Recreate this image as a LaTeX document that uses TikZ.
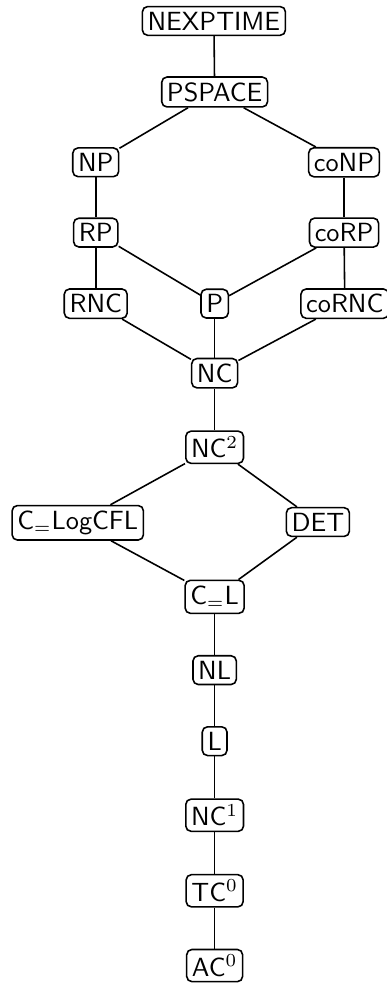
\documentclass[tikz,border=0pt]{standalone}
\usetikzlibrary{positioning}

\begin{document}
\begin{tikzpicture}[
    semithick,
    cls/.style={draw, rounded corners=2pt, inner sep=2pt, font=\sffamily},
    edge/.style={draw},
]
\useasboundingbox (0,0) rectangle (5.17,-13.17);

% upper part
\node[cls] (nexptime) at (2.86, -0.28) {NEXPTIME};
\node[cls] (pspace) at (2.87, -1.23) {PSPACE};
\node[cls] (np) at (1.28, -2.17) {NP};
\node[cls] (conp) at (4.60, -2.17) {coNP};
\node[cls] (rp) at (1.28, -3.11) {RP};
\node[cls] (corp) at (4.60, -3.11) {coRP};
\node[cls] (rnc) at (1.28, -4.06) {RNC};
\node[cls] (p) at (2.87, -4.06) {P};
\node[cls] (cornc) at (4.61, -4.06) {coRNC};
\node[cls] (nc) at (2.87, -4.99) {NC};

% middle part
\node[cls] (nc2) at (2.87, -5.98) {NC$^2$};
\node[cls] (clogcfl) at (1.04, -6.99) {C$_=$LogCFL};
\node[cls] (det) at (4.25, -6.98) {DET};
\node[cls] (cl) at (2.87, -7.98) {C$_=$L};

% lower chain
\node[cls] (nl) at (2.87, -8.96) {NL};
\node[cls] (l) at (2.87, -9.91) {L};
\node[cls] (nc1) at (2.87, -10.90) {NC$^1$};
\node[cls] (tc0) at (2.87, -11.91) {TC$^0$};
\node[cls] (ac0) at (2.87, -12.91) {AC$^0$};

\draw[edge] (nexptime) -- (pspace);
\draw[edge] (pspace) -- (np);
\draw[edge] (pspace) -- (conp);
\draw[edge] (np) -- (rp);
\draw[edge] (conp) -- (corp);
\draw[edge] (rp) -- (rnc);
\draw[edge] (rp) -- (p);
\draw[edge] (corp) -- (p);
\draw[edge] (corp) -- (cornc);
\draw[edge] (rnc) -- (nc);
\draw[edge] (p) -- (nc);
\draw[edge] (cornc) -- (nc);
\draw[edge] (nc) -- (nc2);
\draw[edge] (nc2) -- (clogcfl);
\draw[edge] (nc2) -- (det);
\draw[edge] (clogcfl) -- (cl);
\draw[edge] (det) -- (cl);
\draw[edge] (cl) -- (nl);
\draw[edge] (nl) -- (l);
\draw[edge] (l) -- (nc1);
\draw[edge] (nc1) -- (tc0);
\draw[edge] (tc0) -- (ac0);

\end{tikzpicture}
\end{document}
